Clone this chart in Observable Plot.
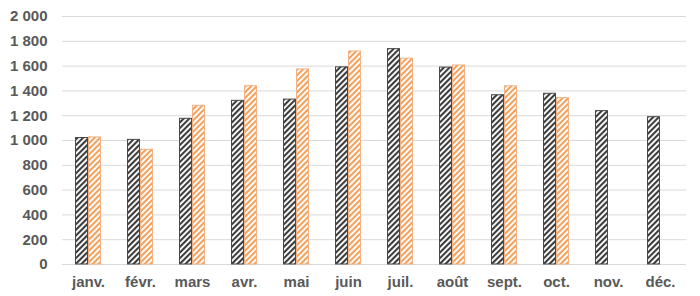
<!DOCTYPE html>
<html>
<head>
<meta charset="utf-8">
<script src="https://cdn.jsdelivr.net/npm/d3@7"></script>
<script src="https://cdn.jsdelivr.net/npm/@observablehq/plot@0.6"></script>
<style>
  html, body { margin: 0; padding: 0; background: #fff; }
  #chart svg { font-family: "Liberation Sans", Arial, sans-serif; }
</style>
</head>
<body>
<div id="chart"></div>
<script>
const months = ["janv.", "févr.", "mars", "avr.", "mai", "juin", "juil.", "août", "sept.", "oct.", "nov.", "déc."];
const seriesNames = ["A", "B"];
const valuesA = [1020, 1005, 1175, 1320, 1330, 1590, 1737, 1588, 1365, 1377, 1237, 1188];
const valuesB = [1025, 925, 1280, 1438, 1573, 1718, 1660, 1605, 1437, 1342, null, null];
const yTicks = [0, 200, 400, 600, 800, 1000, 1200, 1400, 1600, 1800, 2000];

const data = [];
months.forEach((m, i) => {
  if (valuesA[i] != null) data.push({month: m, series: "A", value: valuesA[i]});
  if (valuesB[i] != null) data.push({month: m, series: "B", value: valuesB[i]});
});

const fmt = d => d3.format(",")(d).replace(/,/g, "\u00a0");

const chart = Plot.plot({
  width: 700,
  height: 296,
  marginLeft: 57.5,
  marginRight: 10,
  marginTop: 16,
  marginBottom: 32,
  style: {fontSize: "15px", fontWeight: "bold", color: "#595959", fontFamily: "'Liberation Sans', Arial, sans-serif", background: "#fff"},
  fx: {domain: months, padding: 0, label: null, axis: "bottom", tickSize: 0, tickPadding: 12},
  x: {domain: seriesNames, axis: null, paddingInner: 0.1, paddingOuter: 0.95},
  y: {domain: [0, 2000], ticks: yTicks, tickFormat: fmt, label: null, tickSize: 0, tickPadding: 15},
  marks: [
    Plot.ruleY(yTicks, {stroke: "#d9d9d9", strokeWidth: 1}),
    Plot.barY(data, {
      fx: "month", x: "series", y: "value",
      fill: d => d.series === "A" ? "url(#hatchDark)" : "url(#hatchOrange)",
      stroke: d => d.series === "A" ? "#4a4a4a" : "#f4b183",
      strokeWidth: 1
    })
  ]
});

d3.select(chart).insert("defs", ":first-child").html(`
  <pattern id="hatchDark" patternUnits="userSpaceOnUse" width="4" height="4" patternTransform="rotate(45)">
    <rect width="4" height="4" fill="#ffffff"></rect>
    <rect width="2.1" height="4" fill="#3c3c3c"></rect>
  </pattern>
  <pattern id="hatchOrange" patternUnits="userSpaceOnUse" width="4" height="4" patternTransform="rotate(45)">
    <rect width="4" height="4" fill="#ffffff"></rect>
    <rect width="2.1" height="4" fill="#f0a25e"></rect>
  </pattern>
`);

document.getElementById("chart").appendChild(chart);
</script>
</body>
</html>
